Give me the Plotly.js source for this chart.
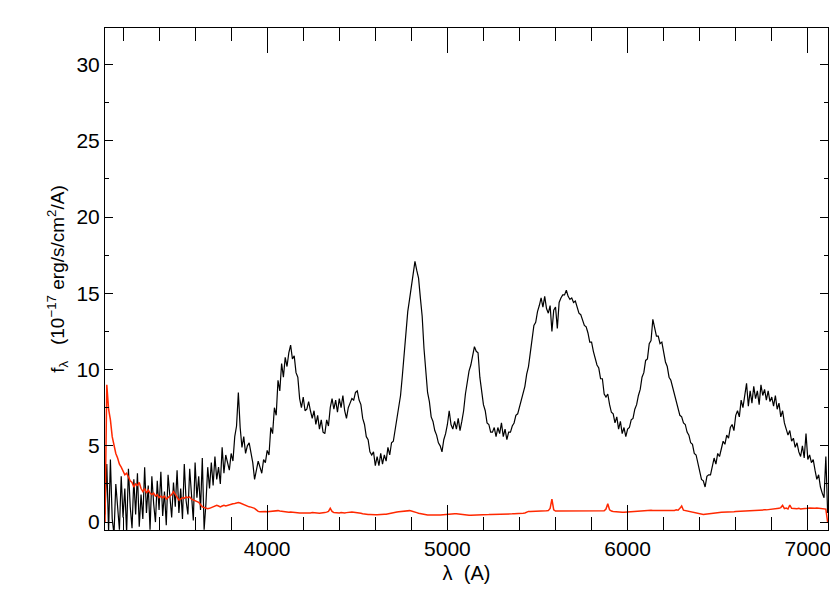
<!DOCTYPE html>
<html>
<head>
<meta charset="utf-8">
<script src="https://cdn.plot.ly/plotly-3.0.1.min.js"></script>
<style>
    html, body { margin: 0; padding: 0; background: #fff; }
    #grafica-espectro { width: 830px; height: 597px; }
</style>
</head>
<body>
<div id="grafica-espectro"></div>
<script>
// Rejilla de longitud de onda (A): 3100 ... 7110 cada 10 A
const lambdaInicio = 3100;
const pasoLambda = 10;

// Espectro del objeto (negro), 10^-17 erg/s/cm2/A
const flujo = [
    0.5, 3.8, -0.6, 4.1, 0.2, -0.8, 2.5, 0.8, -0.5, 3.0,
    0.3, 2.2, -0.7, 3.5, 1.0, -0.4, 2.8, 0.5, 3.2, -0.3,
    1.8, 0.2, 3.6, 0.6, 2.4, -0.5, 3.0, 1.2, 0.0, 2.7,
    0.8, 3.3, 0.4, 2.0, -0.2, 3.1, 1.5, 0.3, 2.6, 1.0,
    3.4, 0.6, 2.2, 0.2, 3.8, 1.4, 0.5, 3.5, 1.8, 0.1,
    3.9, 1.6, 3.0, 0.8, 4.2, -0.5, 1.2, 3.6, 2.2, 3.9,
    2.4, 4.3, 2.8, 3.6, 2.5, 4.9, 3.2, 4.4, 3.9, 3.4,
    4.5, 4.0, 5.6, 6.3, 8.5, 6.2, 4.9, 5.6, 4.5, 5.0,
    5.2, 4.6, 3.9, 2.8, 3.5, 4.0, 3.6, 3.2, 4.1, 3.9,
    4.7, 4.4, 6.2, 5.8, 7.5, 7.0, 9.3, 8.6, 10.4, 9.5,
    10.8, 10.2, 11.1, 11.6, 10.7, 10.9, 9.8, 9.5, 8.1, 7.5,
    8.2, 7.3, 7.4, 7.9, 7.3, 6.8, 7.3, 6.4, 7.0, 6.1,
    6.7, 5.9, 5.8, 6.7, 6.3, 7.5, 8.1, 7.4, 8.0, 7.2,
    8.1, 7.5, 8.3, 7.3, 6.8, 7.5, 7.8, 8.1, 8.0, 8.5,
    8.6, 8.0, 7.7, 6.8, 6.4, 5.6, 5.4, 4.6, 4.4, 4.6,
    3.7, 4.3, 3.7, 4.5, 3.8, 4.4, 4.0, 4.9, 4.4, 5.2,
    5.3, 6.0, 6.7, 7.6, 8.3, 9.6, 11.1, 12.7, 13.8, 14.6,
    15.5, 16.2, 17.1, 16.5, 16.0, 14.7, 13.5, 11.4, 10.0, 8.5,
    7.9, 6.9, 6.6, 6.0, 5.7, 5.2, 5.0, 4.6, 5.4, 5.8,
    6.4, 7.3, 6.4, 6.1, 6.6, 6.1, 6.8, 6.0, 6.6, 7.3,
    8.4, 9.1, 9.9, 10.3, 11.0, 11.5, 11.2, 11.1, 9.5, 8.6,
    7.7, 7.3, 6.5, 6.4, 5.9, 5.9, 6.2, 5.6, 6.2, 5.8,
    6.5, 5.6, 6.1, 5.4, 5.9, 5.9, 6.3, 6.5, 7.0, 7.1,
    7.6, 7.9, 8.6, 8.9, 9.7, 10.2, 11.1, 11.9, 12.9, 13.1,
    13.8, 14.2, 14.7, 14.1, 14.8, 14.0, 13.7, 14.2, 12.5, 13.9,
    14.1, 12.7, 14.4, 14.7, 14.9, 14.9, 15.2, 14.8, 14.6, 14.7,
    14.4, 14.5, 14.1, 13.7, 13.6, 13.2, 12.9, 12.8, 12.4, 11.8,
    11.8, 11.2, 10.8, 10.3, 10.1, 9.4, 9.4, 8.4, 8.2, 8.4,
    7.7, 7.2, 7.1, 6.5, 6.9, 6.1, 6.6, 5.8, 6.2, 5.6,
    6.1, 6.2, 6.7, 6.8, 7.4, 7.7, 8.3, 8.7, 9.5, 9.8,
    10.6, 10.7, 11.7, 11.9, 13.3, 12.7, 12.2, 12.2, 11.7, 11.8,
    11.1, 10.5, 10.2, 9.5, 9.3, 8.8, 8.4, 7.8, 7.5, 7.0,
    6.9, 6.5, 6.4, 5.9, 5.7, 5.2, 5.1, 4.5, 4.4, 3.8,
    3.4, 2.8, 2.7, 2.3, 3.0, 3.1, 3.1, 3.6, 4.2, 3.8,
    4.5, 4.3, 4.9, 5.3, 5.1, 5.7, 5.5, 6.2, 6.4, 6.0,
    7.0, 7.3, 6.9, 8.0, 7.5, 8.4, 9.1, 7.6, 8.6, 7.8,
    8.9, 8.1, 8.6, 7.7, 9.0, 8.3, 8.7, 8.0, 8.6, 7.9,
    8.2, 7.6, 8.3, 7.4, 7.8, 6.9, 7.3, 6.5, 6.1, 5.7,
    6.0, 5.3, 5.5, 4.9, 5.2, 4.6, 4.3, 5.0, 4.2, 5.8,
    4.1, 4.4, 3.9, 4.1, 3.4, 2.8, 3.1, 2.3, 1.9, 1.6,
    4.3, 0.6
];

// Espectro de error / cielo (rojo), misma rejilla
const flujoRojo = [
    0.0, 9.0, 7.4, 6.7, 5.6, 5.0, 4.5, 4.2, 3.8, 3.6,
    3.3, 3.1, 3.2, 2.9, 2.7, 2.6, 2.3, 2.5, 2.4, 2.6,
    2.2, 2.0, 2.2, 1.9, 2.1, 1.9, 1.8, 1.9, 1.7, 1.8,
    1.6, 1.7, 1.6, 1.7, 1.5, 1.6, 1.7, 1.8, 2.0, 1.8,
    1.6, 1.45, 1.5, 1.6, 1.55, 1.65, 1.6, 1.65, 1.5, 1.45,
    1.45, 1.4, 1.3, 1.15, 1.0, 0.95, 0.9, 0.88, 0.9, 0.95,
    0.98, 1.0, 1.1, 1.05, 1.0, 1.05, 1.1, 1.05, 1.1, 1.15,
    1.15, 1.2, 1.22, 1.25, 1.28, 1.25, 1.2, 1.12, 1.08, 1.05,
    1.0, 0.98, 0.95, 0.9, 0.8, 0.7, 0.68, 0.7, 0.72, 0.7,
    0.68, 0.7, 0.72, 0.7, 0.75, 0.78, 0.75, 0.72, 0.7, 0.7,
    0.68, 0.66, 0.65, 0.66, 0.64, 0.62, 0.62, 0.6, 0.6, 0.6,
    0.58, 0.6, 0.6, 0.58, 0.6, 0.62, 0.6, 0.6, 0.6, 0.58,
    0.6, 0.6, 0.62, 0.65, 0.7, 0.9, 0.7, 0.62, 0.6, 0.6,
    0.6, 0.62, 0.6, 0.6, 0.62, 0.64, 0.65, 0.66, 0.65, 0.64,
    0.62, 0.6, 0.58, 0.55, 0.52, 0.5, 0.5, 0.5, 0.48, 0.48,
    0.48, 0.48, 0.5, 0.5, 0.5, 0.52, 0.52, 0.55, 0.58, 0.6,
    0.62, 0.64, 0.66, 0.68, 0.7, 0.72, 0.74, 0.75, 0.76, 0.75,
    0.72, 0.7, 0.66, 0.62, 0.58, 0.55, 0.52, 0.5, 0.48, 0.46,
    0.46, 0.45, 0.45, 0.45, 0.46, 0.46, 0.47, 0.48, 0.5, 0.52,
    0.54, 0.55, 0.56, 0.56, 0.55, 0.54, 0.52, 0.5, 0.48, 0.47,
    0.46, 0.45, 0.45, 0.45, 0.45, 0.46, 0.46, 0.46, 0.47, 0.47,
    0.48, 0.48, 0.48, 0.49, 0.5, 0.5, 0.5, 0.5, 0.51, 0.52,
    0.52, 0.52, 0.52, 0.53, 0.53, 0.54, 0.54, 0.55, 0.55, 0.56,
    0.56, 0.57, 0.58, 0.6, 0.66, 0.7, 0.7, 0.7, 0.7, 0.72,
    0.72, 0.72, 0.73, 0.73, 0.74, 0.74, 0.75, 0.9, 1.5, 0.8,
    0.72, 0.72, 0.72, 0.72, 0.73, 0.74, 0.74, 0.75, 0.76, 0.76,
    0.76, 0.75, 0.74, 0.74, 0.73, 0.73, 0.72, 0.72, 0.72, 0.72,
    0.72, 0.72, 0.72, 0.72, 0.72, 0.72, 0.73, 0.74, 0.85, 1.2,
    0.8, 0.72, 0.7, 0.68, 0.66, 0.65, 0.64, 0.64, 0.65, 0.66,
    0.67, 0.68, 0.68, 0.7, 0.72, 0.73, 0.75, 0.76, 0.77, 0.78,
    0.78, 0.78, 0.78, 0.77, 0.76, 0.76, 0.75, 0.74, 0.74, 0.75,
    0.76, 0.75, 0.76, 0.78, 0.76, 0.75, 0.76, 0.8, 0.78, 0.9,
    1.05, 0.78, 0.75, 0.74, 0.72, 0.7, 0.66, 0.62, 0.58, 0.55,
    0.52, 0.5, 0.5, 0.52, 0.54, 0.56, 0.58, 0.6, 0.6, 0.62,
    0.62, 0.63, 0.64, 0.64, 0.65, 0.66, 0.66, 0.67, 0.68, 0.68,
    0.69, 0.7, 0.7, 0.71, 0.72, 0.72, 0.73, 0.74, 0.74, 0.75,
    0.76, 0.76, 0.77, 0.78, 0.78, 0.79, 0.8, 0.8, 0.81, 0.82,
    0.82, 0.83, 0.84, 0.86, 0.9, 0.95, 1.1, 0.88, 0.92, 0.86,
    1.12, 0.9, 0.88, 0.86, 0.88, 0.9, 0.86, 0.88, 0.87, 0.88,
    0.9, 0.92, 0.9, 0.88, 0.9, 0.92, 0.9, 0.89, 0.88, 0.86,
    0.85, 0.0
];

const rangoX = [3100, 7112];
const rangoY = [-0.52, 32.4];

const fuente = 'Liberation Sans, Arial, sans-serif';

const trazaObjeto = {
    x0: lambdaInicio,
    dx: pasoLambda,
    y: flujo,
    type: 'scatter',
    mode: 'lines',
    line: { color: 'black', width: 1.2 },
    hoverinfo: 'skip'
};

const trazaRoja = {
    x0: lambdaInicio,
    dx: pasoLambda,
    y: flujoRojo,
    type: 'scatter',
    mode: 'lines',
    line: { color: 'rgb(255,40,0)', width: 1.5 },
    hoverinfo: 'skip'
};

const layout = {
    width: 830,
    height: 597,
    margin: { l: 105, r: 2, t: 28, b: 67 },
    paper_bgcolor: 'white',
    plot_bgcolor: 'white',
    showlegend: false,
    font: { family: fuente, size: 21, color: 'black' },
    xaxis: {
        range: rangoX,
        dtick: 1000,
        tick0: 0,
        ticks: 'inside',
        ticklen: 25,
        tickwidth: 1,
        tickcolor: 'black',
        ticklabeloverflow: 'allow',
        showline: true,
        linecolor: 'black',
        linewidth: 1,
        mirror: 'allticks',
        showgrid: false,
        zeroline: false,
        minor: { dtick: 200, ticks: 'inside', ticklen: 13, tickwidth: 1, tickcolor: 'black', showgrid: false },
        title: { text: 'λ\u00a0\u00a0(A)', font: { size: 20 }, standoff: 6 }
    },
    yaxis: {
        range: rangoY,
        dtick: 5,
        tick0: 0,
        ticks: 'inside',
        ticklen: 8,
        tickwidth: 1,
        tickcolor: 'black',
        showline: true,
        linecolor: 'black',
        linewidth: 1,
        mirror: 'allticks',
        showgrid: false,
        zeroline: false,
        minor: { dtick: 2.5, ticks: 'inside', ticklen: 4, tickwidth: 1, tickcolor: 'black', showgrid: false },
        title: {
            text: 'f<sub>λ</sub>\u00a0\u00a0\u00a0(10<sup>−17</sup> erg/s/cm<sup>2</sup>/A)\u00a0\u00a0\u00a0',
            font: { size: 19 },
            standoff: 6
        }
    }
};

Plotly.newPlot('grafica-espectro', [trazaObjeto, trazaRoja], layout, { staticPlot: true });
</script>
</body>
</html>
